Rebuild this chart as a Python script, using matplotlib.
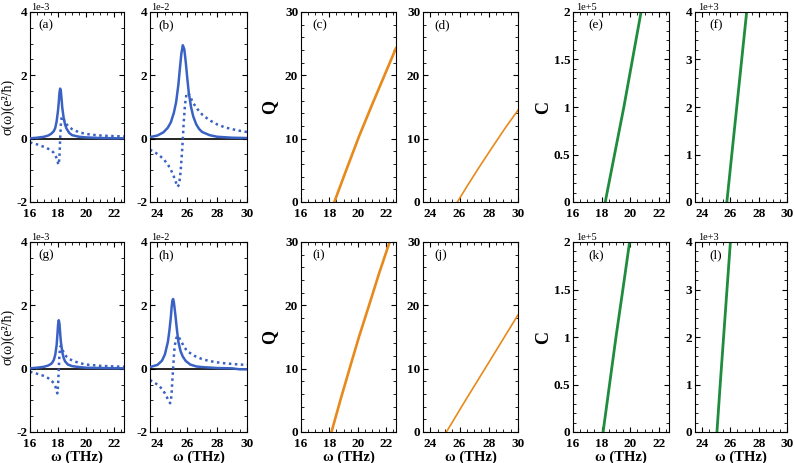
import matplotlib
matplotlib.use("Agg")
import matplotlib.pyplot as plt
from matplotlib.ticker import MultipleLocator, FuncFormatter

plt.rcParams['font.family'] = ['Liberation Serif', 'DejaVu Serif']
plt.rcParams['axes.unicode_minus'] = False

# ---- conductivity, units of 1e-3 (a, g) and 1e-2 (b, h) ----
a_x_re = [16.0, 16.5, 17.0, 17.3, 17.5, 17.7, 17.8, 17.9, 18.0, 18.05, 18.1, 18.15, 18.2, 18.25,
          18.3, 18.4, 18.5, 18.6, 18.8, 19.0, 19.5, 20.0, 21.0, 22.7]
a_y_re = [0.01, 0.03, 0.06, 0.10, 0.15, 0.24, 0.34, 0.55, 0.90, 1.15, 1.45, 1.58, 1.50, 1.25,
          0.98, 0.65, 0.45, 0.32, 0.18, 0.11, 0.06, 0.04, 0.02, 0.01]
a_x_im = [16.0, 16.5, 17.0, 17.3, 17.5, 17.7, 17.8, 17.9, 17.95, 18.0, 18.05, 18.1, 18.15, 18.2,
          18.25, 18.3, 18.4, 18.5, 18.7, 19.0, 19.5, 20.0, 20.5, 21.0, 22.0, 22.7]
a_y_im = [-0.12, -0.18, -0.26, -0.32, -0.36, -0.45, -0.52, -0.62, -0.70, -0.78, -0.82, -0.55, 0.0, 0.45,
          0.65, 0.70, 0.62, 0.52, 0.40, 0.30, 0.20, 0.15, 0.12, 0.10, 0.08, 0.07]

b_x_re = [23.5, 24.0, 24.4, 24.7, 24.9, 25.1, 25.25, 25.4, 25.5, 25.6, 25.7, 25.8, 25.9, 26.0,
          26.1, 26.25, 26.4, 26.6, 26.8, 27.0, 27.5, 28.0, 29.0, 30.0]
b_y_re = [0.05, 0.10, 0.20, 0.35, 0.52, 0.82, 1.15, 1.70, 2.20, 2.68, 2.95, 2.82, 2.40, 1.90,
          1.45, 1.00, 0.70, 0.45, 0.30, 0.21, 0.11, 0.06, 0.03, 0.02]
b_x_im = [23.5, 23.8, 24.1, 24.4, 24.7, 24.9, 25.1, 25.25, 25.35, 25.45, 25.55, 25.65, 25.7, 25.75,
          25.85, 25.95, 26.05, 26.2, 26.4, 26.7, 27.0, 27.5, 28.0, 28.5, 29.0, 29.5, 30.0]
b_y_im = [-0.35, -0.42, -0.52, -0.64, -0.82, -0.98, -1.20, -1.40, -1.52, -1.45, -1.05, -0.40, 0.0, 0.45,
          1.10, 1.42, 1.45, 1.32, 1.12, 0.92, 0.76, 0.58, 0.45, 0.36, 0.30, 0.25, 0.21]

g_x_re = [16.0, 16.5, 17.0, 17.3, 17.5, 17.6, 17.7, 17.8, 17.9, 17.95, 18.0, 18.05, 18.1, 18.15,
          18.2, 18.3, 18.4, 18.5, 18.7, 19.0, 19.5, 20.0, 21.0, 22.7]
g_y_re = [0.01, 0.03, 0.06, 0.10, 0.15, 0.20, 0.28, 0.44, 0.75, 1.05, 1.38, 1.53, 1.42, 1.12,
          0.85, 0.52, 0.34, 0.23, 0.13, 0.08, 0.05, 0.03, 0.02, 0.01]
g_x_im = [16.0, 16.5, 17.0, 17.3, 17.5, 17.6, 17.7, 17.8, 17.85, 17.9, 17.95, 18.0, 18.05, 18.1,
          18.15, 18.2, 18.3, 18.4, 18.6, 18.8, 19.0, 19.5, 20.0, 21.0, 22.0, 22.7]
g_y_im = [-0.10, -0.16, -0.23, -0.30, -0.36, -0.41, -0.47, -0.56, -0.62, -0.70, -0.78, -0.55, 0.0, 0.45,
          0.68, 0.72, 0.62, 0.50, 0.38, 0.31, 0.26, 0.18, 0.13, 0.09, 0.07, 0.06]

h_x_re = [23.5, 24.0, 24.3, 24.5, 24.7, 24.8, 24.9, 24.95, 25.0, 25.05, 25.1, 25.2, 25.3, 25.4,
          25.55, 25.7, 25.9, 26.2, 26.6, 27.0, 28.0, 29.0, 29.5, 30.0]
h_y_re = [0.05, 0.12, 0.25, 0.45, 0.85, 1.20, 1.65, 1.95, 2.15, 2.20, 2.10, 1.70, 1.25, 0.85,
          0.55, 0.38, 0.24, 0.13, 0.07, 0.05, 0.02, 0.01, -0.02, -0.02]
h_x_im = [23.5, 23.8, 24.1, 24.3, 24.5, 24.65, 24.75, 24.85, 24.9, 24.95, 25.0, 25.05, 25.1, 25.15,
          25.25, 25.35, 25.45, 25.6, 25.8, 26.0, 26.5, 27.0, 27.5, 28.0, 28.5, 29.0, 29.5, 30.0]
h_y_im = [-0.36, -0.44, -0.54, -0.64, -0.78, -0.92, -1.02, -1.09, -1.02, -0.75, -0.35, 0.0, 0.40, 0.70,
          0.95, 1.04, 0.98, 0.85, 0.68, 0.55, 0.40, 0.30, 0.24, 0.20, 0.17, 0.15, 0.13, 0.12]

# ---- Q ----
c_x = [18.35, 19.2, 20.1, 21.0, 21.85, 22.7]
c_q = [0.0, 5.1, 10.4, 15.3, 19.8, 24.3]
d_x = [25.85, 26.6, 27.4, 28.2, 29.1, 30.0]
d_q = [0.0, 2.8, 5.7, 8.5, 11.6, 14.5]
i_x = [18.15, 18.8, 19.45, 20.1, 20.8, 21.5, 22.25]
i_q = [0.0, 5.2, 10.2, 15.1, 20.0, 25.0, 30.0]
j_x = [25.1, 26.3, 27.5, 28.7, 30.0]
j_q = [0.0, 4.6, 9.1, 13.6, 18.5]

# ---- C, units of 1e5 (e, k) and 1e3 (f, l) ----
e_x = [18.25, 18.9, 19.55, 20.15, 20.75]
e_c = [0.0, 0.5, 1.0, 1.5, 2.0]
f_x = [25.75, 26.1, 26.45, 26.8, 27.15]
f_c = [0.0, 1.0, 2.0, 3.0, 4.0]
k_x = [18.1, 18.55, 19.0, 19.48, 19.95]
k_c = [0.0, 0.5, 1.0, 1.5, 2.0]
l_x = [25.05, 25.28, 25.52, 25.76, 26.0]
l_c = [0.0, 1.0, 2.0, 3.0, 4.0]

blue = '#3a62c4'
orange = '#e8891c'
green = '#1f8c3e'

W, H = 795, 463
fig = plt.figure(figsize=(W / 100, H / 100), dpi=100)
cols = [(30, 124), (150, 247), (301, 396), (423, 518), (573, 669), (695, 787)]
rows = [(12, 202), (242, 432)]


def make_ax(ci, ri):
    c, r = cols[ci], rows[ri]
    ax = fig.add_axes([c[0] / W, 1 - r[1] / H, (c[1] - c[0]) / W, (r[1] - r[0]) / H])
    ax.tick_params(which='both', direction='in', top=True, right=True, labelsize=9.5, pad=2)
    ax.tick_params(axis='x', which='major', pad=4.5)
    ax.tick_params(which='major', length=3.5, width=0.8)
    ax.tick_params(which='minor', length=2, width=0.6)
    for s in ax.spines.values():
        s.set_linewidth(0.8)
    if ci % 2 == 0:
        ax.set_xlim(16, 22.7)
    else:
        ax.set_xlim(23.5, 30)
    ax.xaxis.set_major_locator(MultipleLocator(2))
    ax.xaxis.set_minor_locator(MultipleLocator(0.5))
    if ri == 1:
        ax.set_xlabel('ω (THz)', fontsize=10.5, fontweight='bold', labelpad=0)
    return ax


def bold_ticks(ax):
    for t in ax.get_xticklabels() + ax.get_yticklabels():
        t.set_fontweight('bold')


fmt = FuncFormatter(lambda v, p: '%g' % v)
labels = [['(a)', '(b)', '(c)', '(d)', '(e)', '(f)'],
          ['(g)', '(h)', '(i)', '(j)', '(k)', '(l)']]
sigma = [[(a_x_re, a_y_re, a_x_im, a_y_im, '1e-3'), (b_x_re, b_y_re, b_x_im, b_y_im, '1e-2')],
         [(g_x_re, g_y_re, g_x_im, g_y_im, '1e-3'), (h_x_re, h_y_re, h_x_im, h_y_im, '1e-2')]]
qdata = [[(c_x, c_q, 1.9), (d_x, d_q, 1.2)], [(i_x, i_q, 1.9), (j_x, j_q, 1.2)]]
cdata = [[(e_x, e_c, 2.0, '1e+5'), (f_x, f_c, 4.0, '1e+3')],
         [(k_x, k_c, 2.0, '1e+5'), (l_x, l_c, 4.0, '1e+3')]]

for ri in range(2):
    for k in range(2):
        xr, yr, xi, yi, mult = sigma[ri][k]
        ax = make_ax(k, ri)
        ax.axhline(0, color='black', lw=1.2, zorder=1)
        ax.plot(xr, yr, color=blue, lw=1.8, zorder=3)
        ax.plot(xi, yi, color=blue, lw=1.8, ls=(0, (1, 1.4)), zorder=2)
        ax.set_ylim(-2, 4)
        ax.yaxis.set_major_locator(MultipleLocator(2))
        ax.yaxis.set_minor_locator(MultipleLocator(0.5))
        ax.yaxis.set_major_formatter(fmt)
        bold_ticks(ax)
        ax.text(0.01, 1.0, mult, transform=ax.transAxes, fontsize=7.5, va='bottom', ha='left')
        ax.text(0.09, 0.93, labels[ri][k], transform=ax.transAxes, fontsize=9.5, va='center')
        if k == 0:
            ax.set_ylabel('σ(ω)(e²/ħ)', fontsize=10, labelpad=1)

    for k in range(2):
        x, q, lw = qdata[ri][k]
        ax = make_ax(2 + k, ri)
        ax.plot(x, q, color=orange, lw=lw)
        ax.set_ylim(0, 30)
        ax.yaxis.set_major_locator(MultipleLocator(10))
        ax.yaxis.set_minor_locator(MultipleLocator(2))
        bold_ticks(ax)
        ax.text(0.12, 0.93, labels[ri][2 + k], transform=ax.transAxes, fontsize=9.5, va='center')
        if k == 0:
            ax.set_ylabel('Q', fontsize=13, fontweight='bold', labelpad=5)

    for k in range(2):
        x, cval, top, mult = cdata[ri][k]
        ax = make_ax(4 + k, ri)
        ax.plot(x, cval, color=green, lw=2.0)
        ax.set_ylim(0, top)
        if top == 2.0:
            ax.yaxis.set_major_locator(MultipleLocator(0.5))
            ax.yaxis.set_minor_locator(MultipleLocator(0.1))
        else:
            ax.yaxis.set_major_locator(MultipleLocator(1))
            ax.yaxis.set_minor_locator(MultipleLocator(0.2))
        ax.yaxis.set_major_formatter(fmt)
        bold_ticks(ax)
        ax.text(0.03, 1.0, mult, transform=ax.transAxes, fontsize=7.5, va='bottom', ha='left')
        ax.text(0.16, 0.93, labels[ri][4 + k], transform=ax.transAxes, fontsize=9.5, va='center')
        if k == 0:
            ax.set_ylabel('C', fontsize=13, fontweight='bold', labelpad=1)

fig.savefig('out.png', dpi=100)
